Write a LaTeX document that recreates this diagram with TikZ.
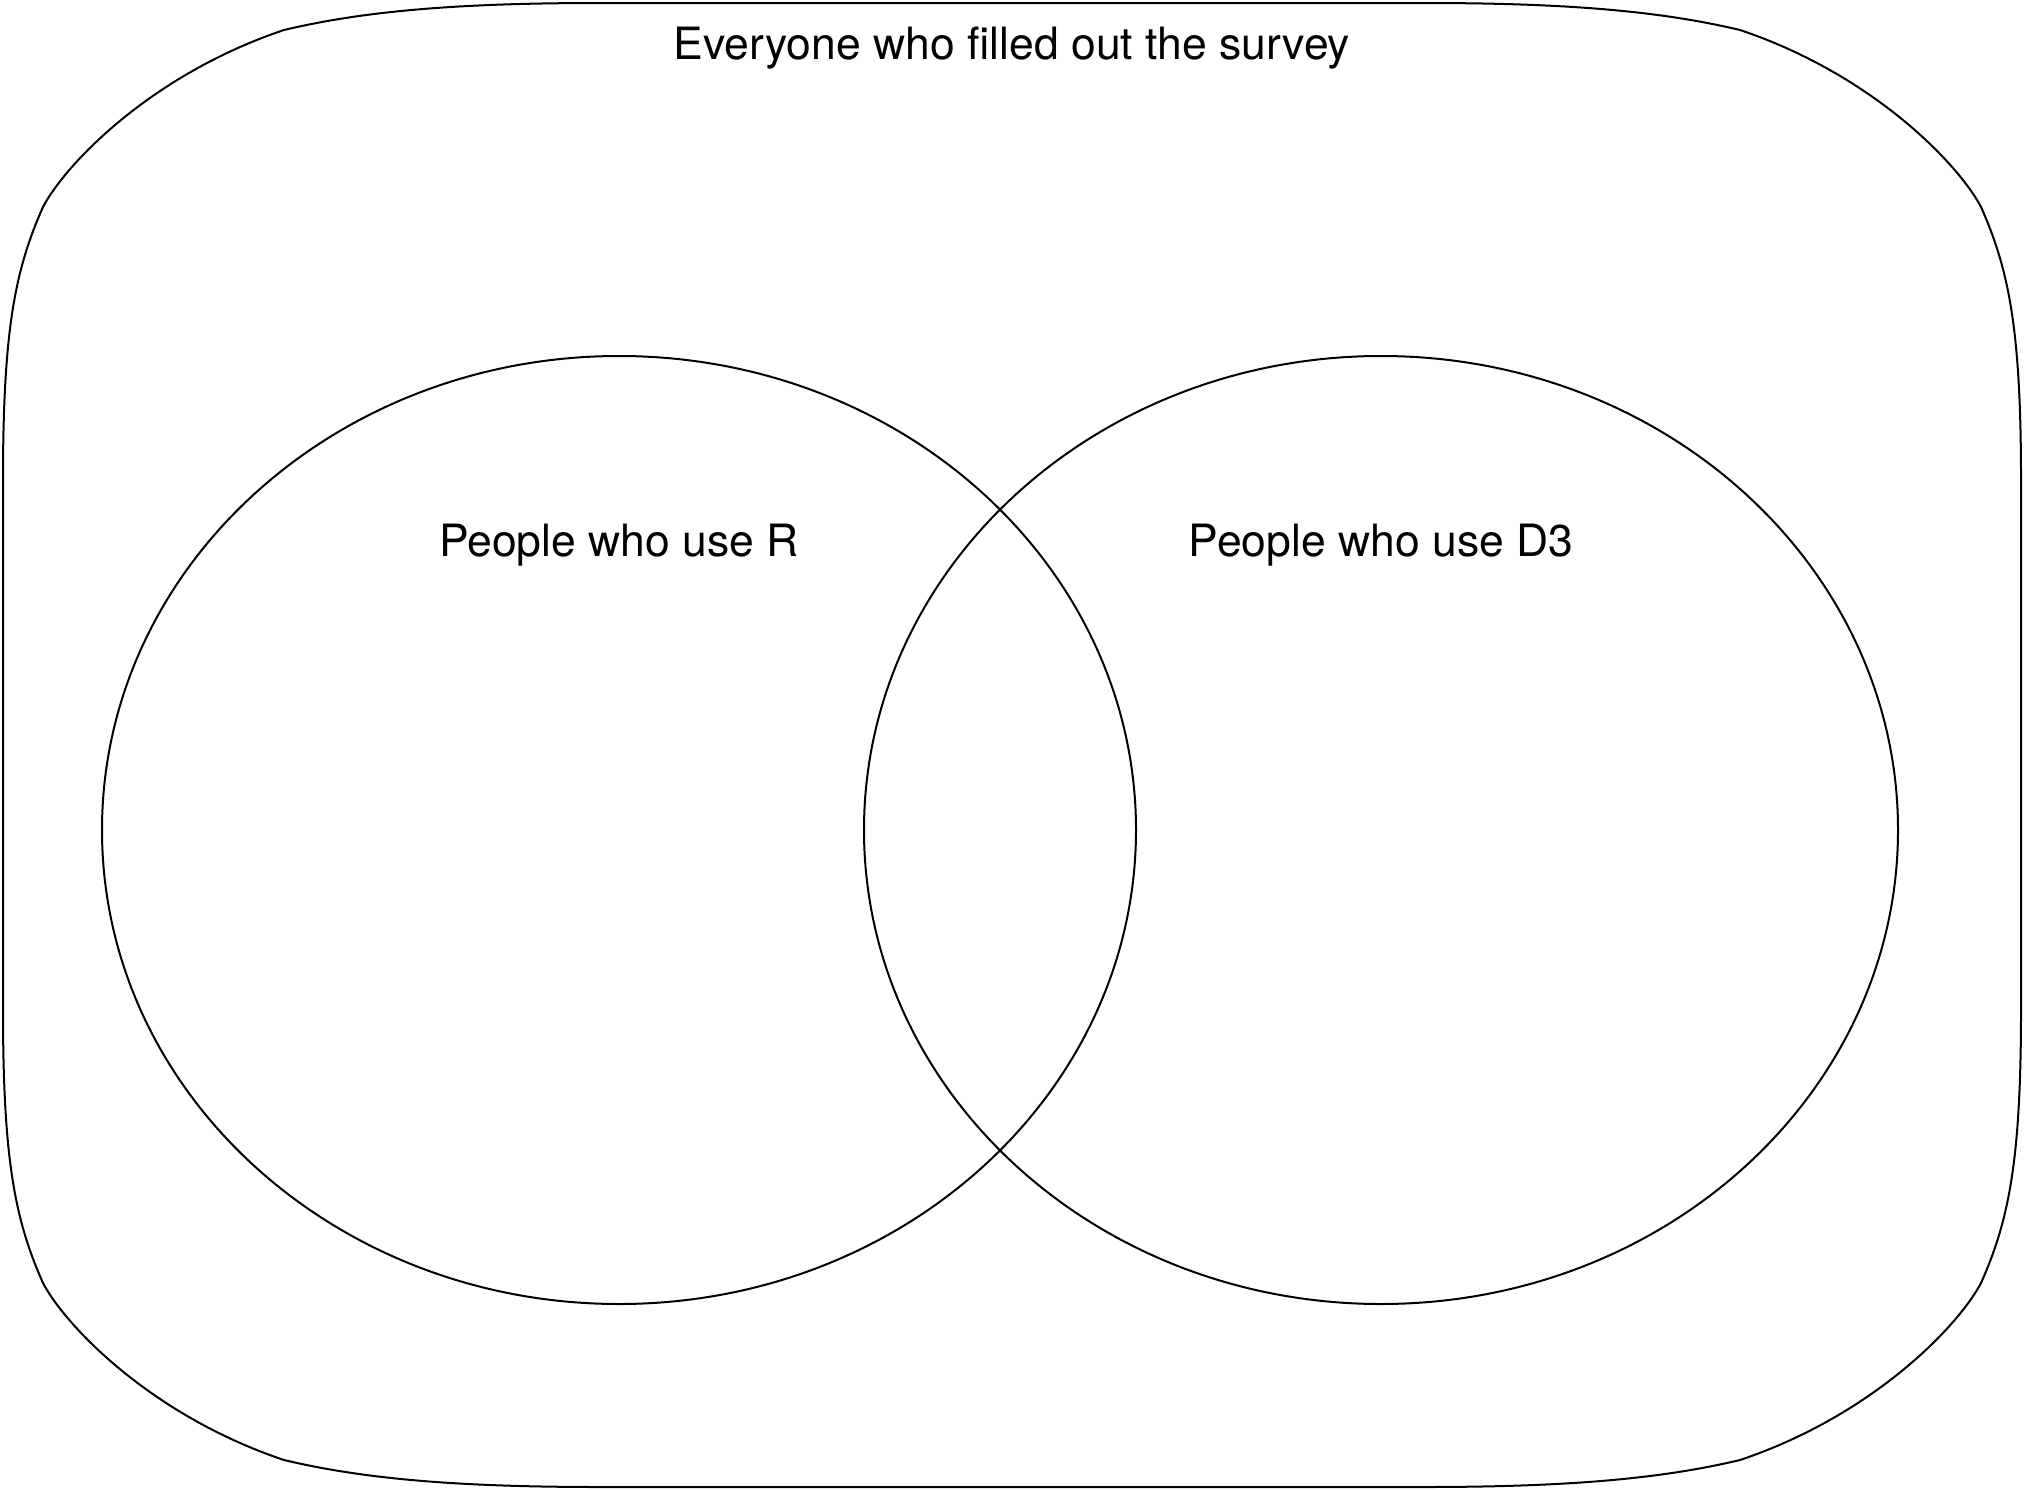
\documentclass[tikz,border=0pt]{standalone}
\usepackage{fontspec}
\setmainfont{TeX Gyre Heros}
\usetikzlibrary{shapes.geometric}

\tikzset{
  outline/.style={draw=black, line width=2pt},
  setshape/.style={outline, ellipse, inner sep=0pt, outer sep=0pt,
    minimum width=1034pt, minimum height=948pt},
  setlabel/.style={anchor=base, inner sep=0pt,
    font=\fontsize{44.5}{53}\selectfont},
}

\begin{document}
\begin{tikzpicture}[x=1pt, y=-1pt]
  \useasboundingbox (0,0) rectangle (2024,1491);

  % universe: rounded outline around both sets
  \draw[outline]
    (3,480) .. controls (3,330) and (15,270) .. (43,207)
    .. controls (65,165) and (150,75) .. (284,30)
    .. controls (360,12) and (450,3) .. (600,3)
    -- (1424,3)
    .. controls (1574,3) and (1664,12) .. (1740,30)
    .. controls (1874,75) and (1959,165) .. (1981,207)
    .. controls (2009,270) and (2021,330) .. (2021,480)
    -- (2021,1010)
    .. controls (2021,1160) and (2009,1220) .. (1981,1283)
    .. controls (1959,1325) and (1874,1415) .. (1740,1460)
    .. controls (1664,1478) and (1574,1487) .. (1424,1487)
    -- (600,1487)
    .. controls (450,1487) and (360,1478) .. (284,1460)
    .. controls (150,1415) and (65,1325) .. (43,1283)
    .. controls (15,1220) and (3,1160) .. (3,1010)
    -- cycle;

  % the two overlapping sets
  \node[setshape] (rset) at (619,830) {};
  \node[setshape] (dset) at (1381,830) {};

  % labels
  \node[setlabel] (all) at (1012,59) {Everyone who filled out the survey};
  \node[setlabel] (rlabel) at (619,556) {People who use R};
  \node[setlabel] (dlabel) at (1381,556) {People who use D3};
\end{tikzpicture}
\end{document}
